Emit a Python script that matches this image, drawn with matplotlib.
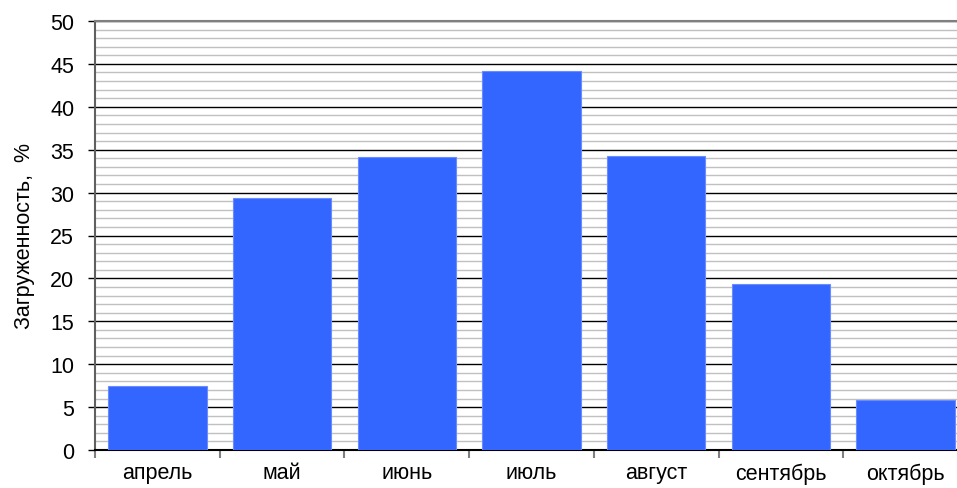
import matplotlib.pyplot as plt
import numpy as np

plt.rcParams['font.family'] = ['Liberation Sans', 'DejaVu Sans']

months = ["апрель", "май", "июнь", "июль", "август", "сентябрь", "октябрь"]
load = [7.5, 29.4, 34.1, 44.2, 34.3, 19.3, 5.8]

fig = plt.figure(figsize=(9.57, 4.89), dpi=100)
# plot area runs slightly past the right edge of the canvas
ax = fig.add_axes([95 / 957, 38 / 489, 873 / 957, 429 / 489])

x = np.arange(len(months))
ax.bar(x, load, width=0.79, color="#3366ff", edgecolor="#6b8cff", linewidth=0.8, zorder=3)

ax.set_xlim(-0.5, len(months) - 0.5)
ax.set_ylim(0, 50)
ax.set_yticks(np.arange(0, 51, 5))
ax.set_yticks(np.arange(0, 51, 1), minor=True)
ax.grid(axis="y", which="minor", color="#c0c0c0", linewidth=1.0, zorder=0)
ax.grid(axis="y", which="major", color="black", linewidth=1.0, zorder=1)

# category labels centred, ticks between categories
ax.set_xticks(np.arange(-0.5, len(months), 1))
ax.set_xticklabels([])
ax.set_xticks(x, minor=True)
ax.set_xticklabels(months, minor=True, fontsize=15.5)
ax.tick_params(axis="x", which="minor", length=0, pad=9)
ax.tick_params(axis="x", which="major", length=6, color="#808080", width=1.5)
ax.tick_params(axis="y", which="major", length=5, width=1, labelsize=15.5, pad=10)
ax.tick_params(axis="y", which="minor", length=0)

ax.set_ylabel("Загруженность,  %", fontsize=15.5, labelpad=11)

ax.spines["right"].set_visible(False)
ax.spines["top"].set_color("#808080")
ax.spines["top"].set_linewidth(1.5)
ax.spines["left"].set_color("#606060")
ax.spines["left"].set_linewidth(1.5)
ax.spines["bottom"].set_color("black")
ax.spines["bottom"].set_linewidth(1.5)

fig.savefig("out.png", dpi=100)
